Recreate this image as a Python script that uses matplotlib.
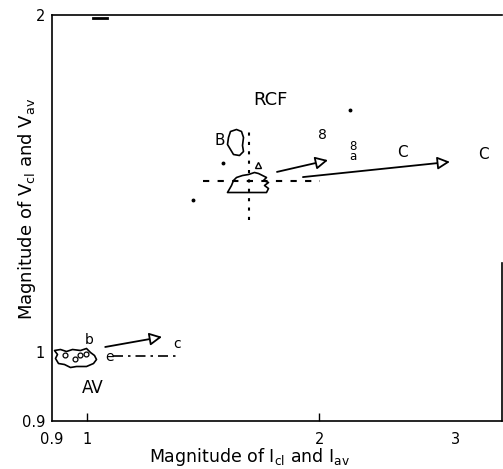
import numpy as np
import matplotlib
matplotlib.use("Agg")
import matplotlib.pyplot as plt
from matplotlib.path import Path

plt.rcParams['font.family'] = ['DejaVu Sans']

# ---------------- axes ----------------
x_limits = (0.9, 3.45)
y_limits = (0.9, 2.0)
x_ticks = [0.9, 1, 2, 3]
x_tick_labels = ["0.9", "1", "2", "3"]
y_ticks = [0.9, 1, 2]
y_tick_labels = ["0.9", "1", "2"]

# ---------------- RCF cluster ----------------
rcf_blob = (1.62, 1.374)
rcf_b_blob = (1.554, 1.492)
rcf_vline_x = [1.62, 1.62]
rcf_vline_y = [1.269, 1.525]
rcf_hline_x = [1.413, 2.004]
rcf_hline_y = [1.374, 1.374]
rcf_triangle = (1.665, 1.420)
arrow_b_start = (1.762, 1.400)
arrow_b_end = (2.052, 1.435)
arrow_c_start = (1.904, 1.385)
arrow_c_end = (2.953, 1.430)
rcf_dots_x = [1.500, 1.371, 2.191]
rcf_dots_y = [1.426, 1.322, 1.601]

# ---------------- AV cluster ----------------
av_blob = (0.964, 0.993)
av_circles_x = [0.936, 0.964, 0.978, 0.996]
av_circles_y = [0.996, 0.990, 0.996, 0.997]
av_dashdot_x = [1.080, 1.308]
av_dashdot_y = [0.994, 0.994]
arrow_av_start = (1.055, 1.009)
arrow_av_end = (1.250, 1.026)

# stray mark under the top frame
top_mark_x = [1.017, 1.061]
top_mark_y = [1.985, 1.985]

# ---------------- text labels ----------------
label_texts = ["RCF", "B", "8", "8\na", "C", "C", "AV", "b", "e", "c"]
label_x = [1.726, 1.487, 2.021, 2.211, 2.560, 3.26, 1.017, 1.005, 1.070, 1.308]
label_y = [1.637, 1.498, 1.515, 1.462, 1.460, 1.454, 0.945, 1.021, 0.993, 1.014]
label_sizes = [13, 11, 10, 8.5, 11, 11, 12, 10, 10, 10]

# blob outlines (marker shapes, pixel offsets, y up)
rcf_shape = [(-22, -11), (-18, -4), (-16, 1), (-13, 4), (-7, 6), (-1, 7), (5, 9), (9, 8),
             (13, 6), (17, 4), (14, 1), (19, -1), (15, -4), (19, -7), (17, -11)]
b_shape = [(-5, 11), (1, 13), (6, 11), (8, 5), (7, -3), (8, -9), (4, -13), (-2, -12),
           (-5, -7), (-8, -2), (-7, 5)]
av_shape = [(-21, 7), (-15, 8), (-9, 6), (-3, 8), (5, 7), (11, 9), (15, 5), (19, 2), (21, -2),
            (18, -6), (11, -9), (1, -9), (-5, -10), (-11, -7), (-17, -6), (-20, -1), (-18, 3)]


def shape_marker(pts):
    v = np.array(pts + [pts[0]], dtype=float)
    codes = [Path.MOVETO] + [Path.LINETO] * (len(pts) - 1) + [Path.CLOSEPOLY]
    size = 2 * np.abs(v).max() * 72 / 100.0
    return Path(v, codes), size


fig = plt.figure(figsize=(5.03, 4.69), dpi=100)
ax = fig.add_axes([52 / 503, 1 - 421 / 469, 450 / 503, 406 / 469])

ax.set_xscale('log')
ax.set_yscale('function', functions=(lambda y: np.log10(np.maximum(np.asarray(y) - 0.5, 1e-6)),
                                     lambda v: 10 ** np.asarray(v) + 0.5))
ax.set_xlim(*x_limits)
ax.set_ylim(*y_limits)

ax.set_xticks(x_ticks)
ax.set_xticklabels(x_tick_labels)
ax.xaxis.set_minor_locator(matplotlib.ticker.NullLocator())
ax.set_yticks(y_ticks)
ax.set_yticklabels(y_tick_labels)
ax.yaxis.set_minor_locator(matplotlib.ticker.NullLocator())
ax.tick_params(axis='x', direction='in', length=6, width=1, labelsize=10.5, pad=8)
ax.tick_params(axis='y', length=0, labelsize=10.5, pad=5)
for i, t in enumerate(ax.xaxis.get_major_ticks()):
    if i in (0, 3):
        t.tick1line.set_visible(False)

for s in ax.spines.values():
    s.set_linewidth(1.2)
ax.spines['right'].set_bounds(0.9, 1.17)

ax.set_xlabel(r"Magnitude of $\mathregular{I_{cl}}$ and $\mathregular{I_{av}}$", fontsize=12.5)
ax.set_ylabel(r"Magnitude of $\mathregular{V_{cl}}$ and $\mathregular{V_{av}}$", fontsize=13)
ax.xaxis.set_label_coords(0.44, -0.062)
ax.yaxis.set_label_coords(-0.03, 0.522)

# blobs
for center, pts in [(rcf_blob, rcf_shape), (rcf_b_blob, b_shape), (av_blob, av_shape)]:
    m, sz = shape_marker(pts)
    ax.plot([center[0]], [center[1]], marker=m, markersize=sz, markerfacecolor='none',
            markeredgecolor='black', markeredgewidth=1.2, linestyle='none')

ax.plot(av_circles_x, av_circles_y, 'o', ms=3.5, mfc='none', mec='black', mew=0.9)
ax.plot([rcf_triangle[0]], [rcf_triangle[1]], '^', ms=5, mfc='none', mec='black', mew=1)
ax.plot(rcf_dots_x, rcf_dots_y, 'o', ms=1.8, color='black')

# dashed guide lines
ax.plot(rcf_vline_x, rcf_vline_y, color='black', lw=1.5, linestyle=(0, (1.5, 3)))
ax.plot(rcf_hline_x, rcf_hline_y, color='black', lw=1.5, linestyle=(0, (3, 4)))
ax.plot(av_dashdot_x, av_dashdot_y, color='black', lw=1.2, linestyle=(0, (6, 3, 1.5, 3)))
ax.plot(top_mark_x, top_mark_y, color='black', lw=2)

# arrows
for s, e in [(arrow_b_start, arrow_b_end), (arrow_c_start, arrow_c_end),
             (arrow_av_start, arrow_av_end)]:
    ax.annotate("", xy=e, xytext=s,
                arrowprops=dict(arrowstyle="-|>,head_length=0.75,head_width=0.38",
                                fc='white', ec='black', lw=1.3, shrinkA=0, shrinkB=0,
                                mutation_scale=10))

for t, x, y, fs in zip(label_texts, label_x, label_y, label_sizes):
    ax.text(x, y, t, fontsize=fs, ha='center', va='center', linespacing=0.75)

fig.savefig("out.png", dpi=100)
